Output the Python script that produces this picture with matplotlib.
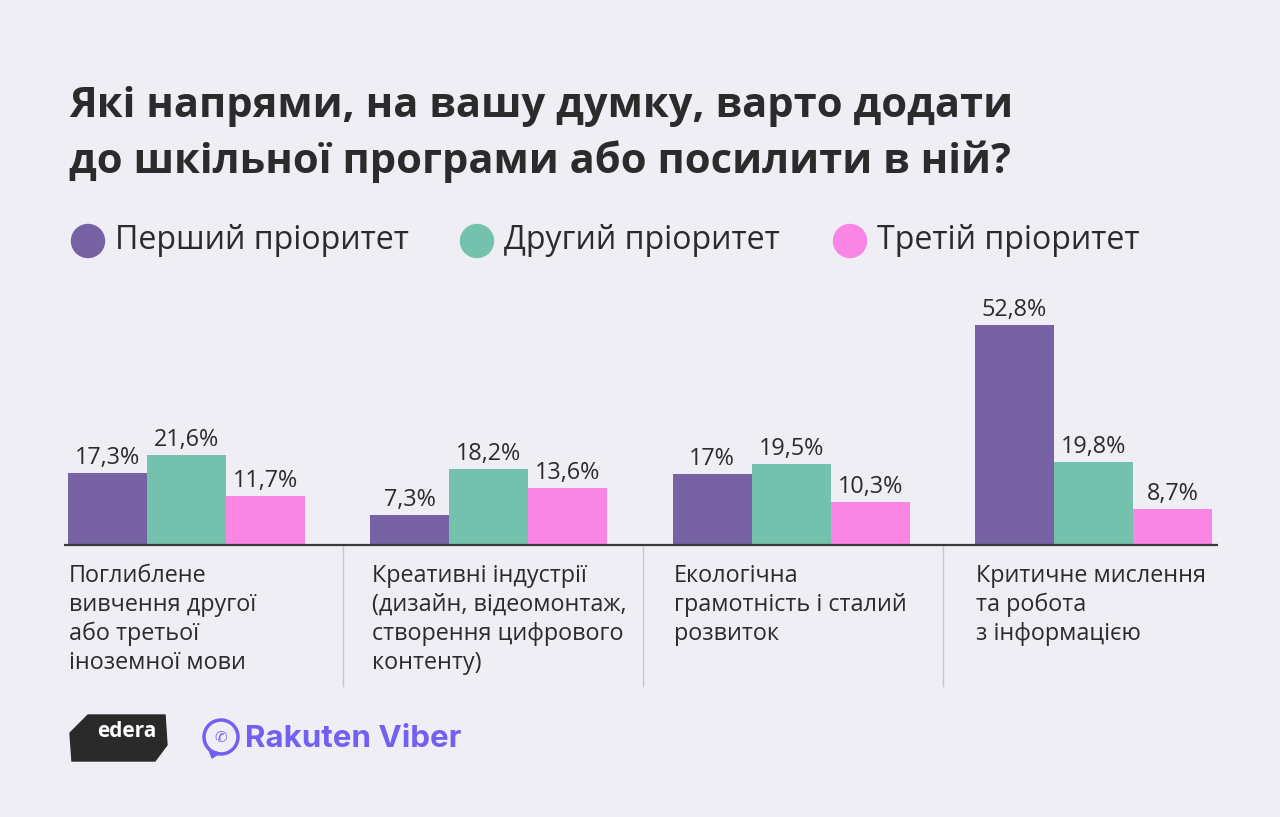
import matplotlib
matplotlib.use("Agg")
import matplotlib.pyplot as plt
import numpy as np
from matplotlib.patches import Ellipse, Polygon

# ---- data ----
categories = [
    "Поглиблене\nвивчення другої\nабо третьої\nіноземної мови",
    "Креативні індустрії\n(дизайн, відеомонтаж,\nстворення цифрового\nконтенту)",
    "Екологічна\nграмотність і сталий\nрозвиток",
    "Критичне мислення\nта робота\nз інформацією",
]
series_names = ["Перший пріоритет", "Другий пріоритет", "Третій пріоритет"]
first = [17.3, 7.3, 17.0, 52.8]
second = [21.6, 18.2, 19.5, 19.8]
third = [11.7, 13.6, 10.3, 8.7]
value_labels = [
    ["17,3%", "7,3%", "17%", "52,8%"],
    ["21,6%", "18,2%", "19,5%", "19,8%"],
    ["11,7%", "13,6%", "10,3%", "8,7%"],
]
title_lines = ["Які напрями, на вашу думку, варто додати",
               "до шкільної програми або посилити в ній?"]

colors = ["#7763A3", "#74C2AD", "#F985E4"]
bg = "#F0EEF5"
txt = "#2B2B2B"
FONT = "Open Sans"

W, H = 1280, 817
fig = plt.figure(figsize=(W / 100, H / 100), dpi=100, facecolor=bg)

def fx(px):
    return px / W

def fy(py):
    return 1 - py / H

base_px = 545
top_px = 300
px_per_unit = 4.17
ax_l, ax_r = 68, 1212
ax = fig.add_axes([fx(ax_l), fy(base_px), fx(ax_r) - fx(ax_l), (base_px - top_px) / H])
ax.set_facecolor(bg)
ax.set_ylim(0, (base_px - top_px) / px_per_unit)
w = 0.2613
x0, x1 = -1.5 * w, 3 + 1.5 * w
ax.set_xlim(x0, x1)
unit_px = (ax_r - ax_l) / (x1 - x0)

def dx(px):
    return x0 + (px - ax_l) / unit_px

x = np.arange(len(categories))
for i, vals in enumerate([first, second, third]):
    bars = ax.bar(x + (i - 1) * w, vals, width=w, color=colors[i], linewidth=0)
    for b, lab in zip(bars, value_labels[i]):
        ax.annotate(lab, (b.get_x() + b.get_width() / 2, b.get_height()),
                    xytext=(0, 6.5), textcoords="offset points",
                    ha="center", va="baseline", fontsize=16.8, color=txt,
                    family=FONT)
for s in ax.spines.values():
    s.set_visible(False)
ax.plot([dx(64), dx(1218)], [0, 0], color="#3A3A3A", lw=1.6, zorder=5,
        clip_on=False, solid_capstyle="butt")
ax.set_xticks([])
ax.set_yticks([])

# separators
for spx in [343, 643, 943]:
    ax.plot([dx(spx), dx(spx)], [0, -(686 - base_px) / px_per_unit], color="#C9C6CF",
            lw=1, clip_on=False)

# category labels (each line placed at its baseline)
for i, c in enumerate(categories):
    for j, line in enumerate(c.split("\n")):
        ax.text(i - 1.5 * w + 0.004, -(582 + 29 * j - base_px) / px_per_unit, line,
                ha="left", va="baseline", fontsize=16.8, color=txt, family=FONT)

# title
for j, line in enumerate(title_lines):
    fig.text(fx(69), fy(117 + 56 * j), line, ha="left", va="baseline",
             fontsize=30.1, fontweight="bold", color=txt, family=FONT)

# legend
leg_x = [88, 477, 850]
for lx, name, col in zip(leg_x, series_names, colors):
    fig.patches.append(Ellipse((fx(lx), fy(241)), 33 / W, 33 / H, color=col,
                               transform=fig.transFigure))
    fig.text(fx(lx + 27), fy(249), name, ha="left", va="baseline",
             fontsize=23.1, color=txt, family=FONT)

# edera logo
poly = Polygon([[fx(70), fy(733)], [fx(88), fy(715)], [fx(165), fy(715)],
                [fx(167), fy(745)], [fx(155), fy(761)], [fx(72), fy(761)]],
               closed=True, color="#2A2A2A", transform=fig.transFigure)
fig.patches.append(poly)
fig.text(fx(127), fy(737), "edera", ha="center", va="baseline", fontsize=15,
         fontweight="bold", color="white", family=FONT)

# viber logo
vcol = "#7360F2"
fig.patches.append(Ellipse((fx(221), fy(737)), 34 / W, 34 / H, fill=False,
                           ec=vcol, lw=2.5, transform=fig.transFigure))
fig.patches.append(Polygon([[fx(209), fy(750)], [fx(212), fy(758)], [fx(220), fy(753)]],
                           closed=True, color=vcol, transform=fig.transFigure))
fig.text(fx(221), fy(737), "✆", ha="center", va="center", fontsize=11,
         color=vcol, family="DejaVu Sans")
fig.text(fx(245), fy(747), "Rakuten Viber", ha="left", va="baseline",
         fontsize=22.5, fontweight="bold", color=vcol, family="Inter")

fig.savefig("out.png", dpi=100, facecolor=bg)
